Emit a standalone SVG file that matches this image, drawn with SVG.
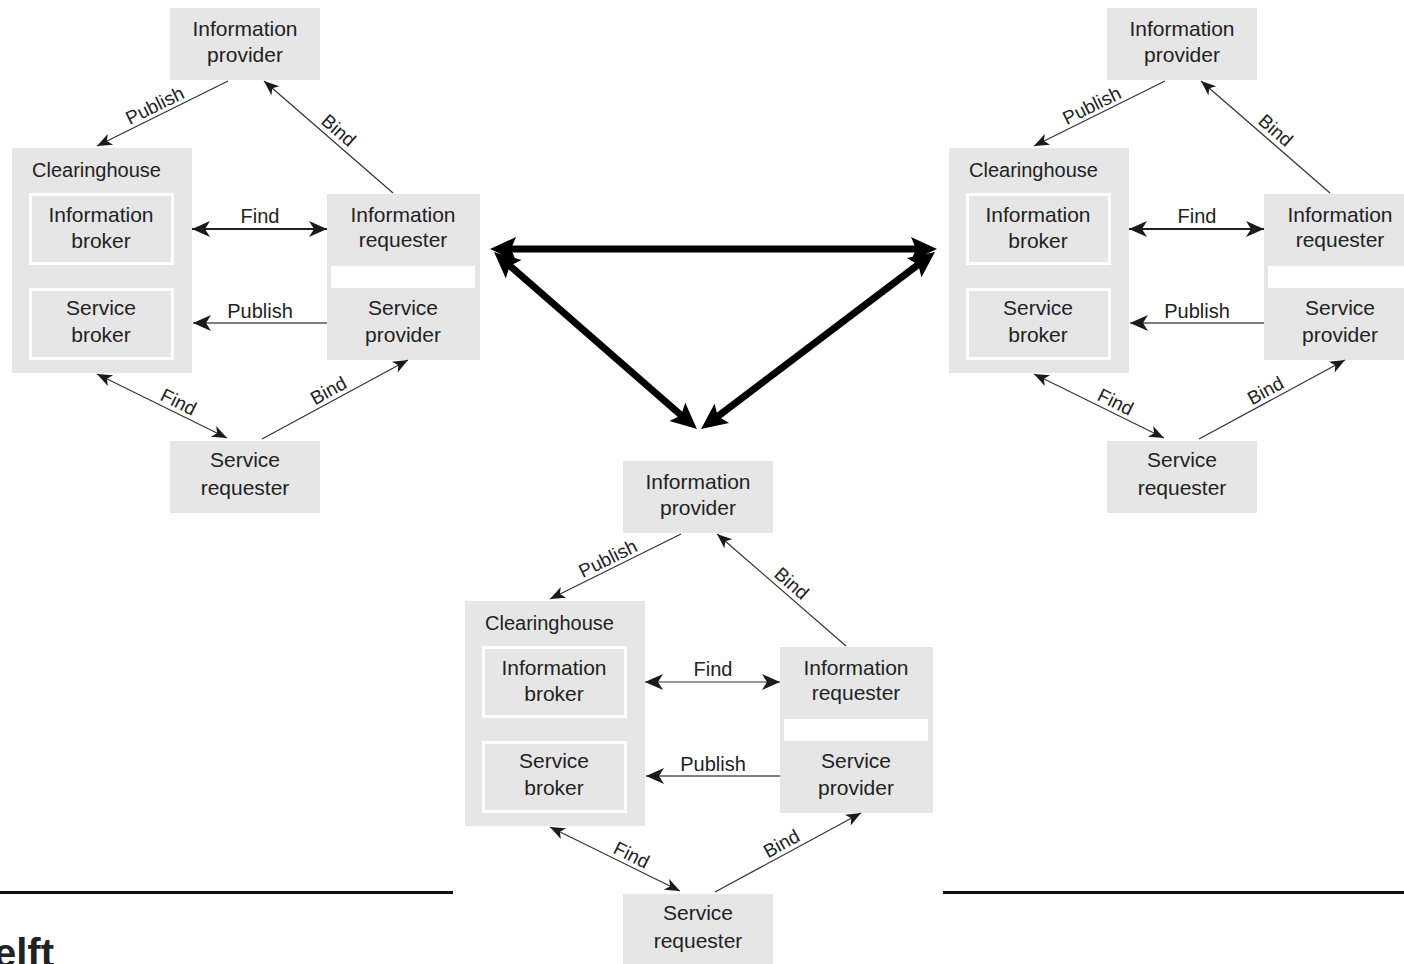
<svg xmlns="http://www.w3.org/2000/svg" width="1404" height="964" viewBox="0 0 1404 964">
<style>
.box{fill:#e6e6e6}
.inner{fill:#e6e6e6;stroke:#ffffff;stroke-width:3}
.gap{fill:#ffffff}
text{font-family:"Liberation Sans",Arial,sans-serif;fill:#222222}
.t{font-size:21px;text-anchor:middle}
.m{font-size:20px;text-anchor:middle}
.ts{font-size:20px;text-anchor:start}
.lbl{font-size:19px;text-anchor:middle}
.c{stroke:#333333;stroke-width:1.2;fill:none}
.cf{stroke:#222222;stroke-width:2;fill:none}
.cp{stroke:#555555;stroke-width:1.6;fill:none}
.big{stroke:#000000;stroke-width:7;fill:none;marker-start:url(#bigHead);marker-end:url(#bigHead)}
.rule{stroke:#111111;stroke-width:3}
.brand{font-size:40px;font-weight:bold;fill:#222222}
</style>
<defs>
<marker id="sm" markerUnits="userSpaceOnUse" orient="auto-start-reverse" markerWidth="20" markerHeight="20" refX="0" refY="0" overflow="visible">
<path d="M0,0 L-15,-6 L-11,0 L-15,6 Z" fill="#1a1a1a"/>
</marker>
<marker id="md" markerUnits="userSpaceOnUse" orient="auto-start-reverse" markerWidth="20" markerHeight="20" refX="0" refY="0" overflow="visible">
<path d="M0,0 L-18,-8 L-13,0 L-18,8 Z" fill="#1a1a1a"/>
</marker>
<marker id="bigHead" markerUnits="userSpaceOnUse" orient="auto-start-reverse" markerWidth="30" markerHeight="30" refX="0" refY="0" overflow="visible">
<path d="M14,0 L-12,-12 L-7,0 L-12,12 Z" fill="#000000"/>
</marker>
</defs>

<!-- Copy A (top-left) -->
<g id="copyA">
 <g id="a-info-provider"><rect class="box" x="170" y="8" width="150" height="72"/><text class="t" x="245" y="36">Information</text><text class="t" x="245" y="62">provider</text></g>
 <g id="a-clearinghouse"><rect class="box" x="12" y="148" width="180" height="225"/><text class="ts" x="32" y="177">Clearinghouse</text></g>
 <g id="a-info-broker"><rect class="inner" x="30.5" y="194.5" width="142" height="69"/><text class="t" x="101" y="222">Information</text><text class="t" x="101" y="248">broker</text></g>
 <g id="a-service-broker"><rect class="inner" x="30.5" y="289.5" width="142" height="69"/><text class="t" x="101" y="315">Service</text><text class="t" x="101" y="342">broker</text></g>
 <g id="a-info-requester"><rect class="box" x="327" y="194" width="153" height="94"/><rect class="gap" x="331" y="266" width="144" height="22"/><text class="t" x="403" y="222">Information</text><text class="t" x="403" y="247">requester</text></g>
 <g id="a-service-provider"><rect class="box" x="327" y="288" width="153" height="72"/><text class="t" x="403" y="315">Service</text><text class="t" x="403" y="342">provider</text></g>
 <g id="a-service-requester"><rect class="box" x="170" y="441" width="150" height="72"/><text class="t" x="245" y="467">Service</text><text class="t" x="245" y="495">requester</text></g>
</g>
<g id="a-connectors">
 <line class="c" x1="228" y1="81" x2="97" y2="146" marker-end="url(#sm)"/>
 <text class="lbl" transform="translate(157.7,111.4) rotate(-26.4)">Publish</text>
 <line class="c" x1="393" y1="193" x2="264" y2="81" marker-end="url(#sm)"/>
 <text class="lbl" transform="translate(334.3,135.3) rotate(41)">Bind</text>
 <line class="cf" x1="192" y1="229" x2="327" y2="229" marker-start="url(#md)" marker-end="url(#md)"/>
 <text class="m" x="260" y="223">Find</text>
 <line class="cp" x1="327" y1="323" x2="193" y2="323" marker-end="url(#md)"/>
 <text class="m" x="260" y="318">Publish</text>
 <line class="c" x1="97" y1="374" x2="227" y2="438" marker-start="url(#sm)" marker-end="url(#sm)"/>
 <text class="lbl" transform="translate(175.6,407.8) rotate(26.6)">Find</text>
 <line class="c" x1="262" y1="439" x2="408" y2="360" marker-end="url(#sm)"/>
 <text class="lbl" transform="translate(331.6,396.3) rotate(-28.7)">Bind</text>
</g>

<!-- Copy B (top-right) -->
<g id="copyB" transform="translate(937,0)">
 <g id="b-info-provider"><rect class="box" x="170" y="8" width="150" height="72"/><text class="t" x="245" y="36">Information</text><text class="t" x="245" y="62">provider</text></g>
 <g id="b-clearinghouse"><rect class="box" x="12" y="148" width="180" height="225"/><text class="ts" x="32" y="177">Clearinghouse</text></g>
 <g id="b-info-broker"><rect class="inner" x="30.5" y="194.5" width="142" height="69"/><text class="t" x="101" y="222">Information</text><text class="t" x="101" y="248">broker</text></g>
 <g id="b-service-broker"><rect class="inner" x="30.5" y="289.5" width="142" height="69"/><text class="t" x="101" y="315">Service</text><text class="t" x="101" y="342">broker</text></g>
 <g id="b-info-requester"><rect class="box" x="327" y="194" width="153" height="94"/><rect class="gap" x="331" y="266" width="144" height="22"/><text class="t" x="403" y="222">Information</text><text class="t" x="403" y="247">requester</text></g>
 <g id="b-service-provider"><rect class="box" x="327" y="288" width="153" height="72"/><text class="t" x="403" y="315">Service</text><text class="t" x="403" y="342">provider</text></g>
 <g id="b-service-requester"><rect class="box" x="170" y="441" width="150" height="72"/><text class="t" x="245" y="467">Service</text><text class="t" x="245" y="495">requester</text></g>
</g>
<g id="b-connectors" transform="translate(937,0)">
 <line class="c" x1="228" y1="81" x2="97" y2="146" marker-end="url(#sm)"/>
 <text class="lbl" transform="translate(157.7,111.4) rotate(-26.4)">Publish</text>
 <line class="c" x1="393" y1="193" x2="264" y2="81" marker-end="url(#sm)"/>
 <text class="lbl" transform="translate(334.3,135.3) rotate(41)">Bind</text>
 <line class="cf" x1="192" y1="229" x2="327" y2="229" marker-start="url(#md)" marker-end="url(#md)"/>
 <text class="m" x="260" y="223">Find</text>
 <line class="cp" x1="327" y1="323" x2="193" y2="323" marker-end="url(#md)"/>
 <text class="m" x="260" y="318">Publish</text>
 <line class="c" x1="97" y1="374" x2="227" y2="438" marker-start="url(#sm)" marker-end="url(#sm)"/>
 <text class="lbl" transform="translate(175.6,407.8) rotate(26.6)">Find</text>
 <line class="c" x1="262" y1="439" x2="408" y2="360" marker-end="url(#sm)"/>
 <text class="lbl" transform="translate(331.6,396.3) rotate(-28.7)">Bind</text>
</g>

<!-- Copy C (bottom-centre) -->
<g id="copyC" transform="translate(453,453)">
 <g id="c-info-provider"><rect class="box" x="170" y="8" width="150" height="72"/><text class="t" x="245" y="36">Information</text><text class="t" x="245" y="62">provider</text></g>
 <g id="c-clearinghouse"><rect class="box" x="12" y="148" width="180" height="225"/><text class="ts" x="32" y="177">Clearinghouse</text></g>
 <g id="c-info-broker"><rect class="inner" x="30.5" y="194.5" width="142" height="69"/><text class="t" x="101" y="222">Information</text><text class="t" x="101" y="248">broker</text></g>
 <g id="c-service-broker"><rect class="inner" x="30.5" y="289.5" width="142" height="69"/><text class="t" x="101" y="315">Service</text><text class="t" x="101" y="342">broker</text></g>
 <g id="c-info-requester"><rect class="box" x="327" y="194" width="153" height="94"/><rect class="gap" x="331" y="266" width="144" height="22"/><text class="t" x="403" y="222">Information</text><text class="t" x="403" y="247">requester</text></g>
 <g id="c-service-provider"><rect class="box" x="327" y="288" width="153" height="72"/><text class="t" x="403" y="315">Service</text><text class="t" x="403" y="342">provider</text></g>
 <g id="c-service-requester"><rect class="box" x="170" y="441" width="150" height="72"/><text class="t" x="245" y="467">Service</text><text class="t" x="245" y="495">requester</text></g>
</g>
<g id="c-connectors" transform="translate(453,453)">
 <line class="c" x1="228" y1="81" x2="97" y2="146" marker-end="url(#sm)"/>
 <text class="lbl" transform="translate(157.7,111.4) rotate(-26.4)">Publish</text>
 <line class="c" x1="393" y1="193" x2="264" y2="81" marker-end="url(#sm)"/>
 <text class="lbl" transform="translate(334.3,135.3) rotate(41)">Bind</text>
 <line class="c" x1="192" y1="229" x2="327" y2="229" marker-start="url(#md)" marker-end="url(#md)"/>
 <text class="m" x="260" y="223">Find</text>
 <line class="cp" x1="327" y1="323" x2="193" y2="323" marker-end="url(#md)"/>
 <text class="m" x="260" y="318">Publish</text>
 <line class="c" x1="97" y1="374" x2="227" y2="438" marker-start="url(#sm)" marker-end="url(#sm)"/>
 <text class="lbl" transform="translate(175.6,407.8) rotate(26.6)">Find</text>
 <line class="c" x1="262" y1="439" x2="408" y2="360" marker-end="url(#sm)"/>
 <text class="lbl" transform="translate(331.6,396.3) rotate(-28.7)">Bind</text>
</g>

<!-- Big connectors between the three copies -->
<g id="main-connectors">
 <line class="big" x1="504" y1="249" x2="923" y2="249"/>
 <line class="big" x1="504.6" y1="261.2" x2="686.4" y2="419.8"/>
 <line class="big" x1="923.8" y1="260.4" x2="712.2" y2="420.6"/>
</g>

<g id="footer">
 <line class="rule" x1="0" y1="892.5" x2="453" y2="892.5"/>
 <line class="rule" x1="943" y1="892.5" x2="1404" y2="892.5"/>
 <text class="brand" x="-6" y="967">elft</text>
</g>
</svg>
